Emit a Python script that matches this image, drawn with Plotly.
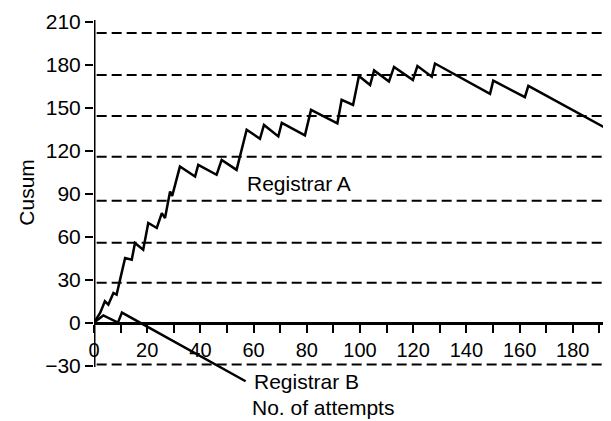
import plotly.graph_objects as go

# Registrar A cusum (attempt number, cusum value)
a_x = [0, 2.3, 4.1, 5.4, 7.3, 8.5, 9.8, 11.7, 14.2, 15.4, 18.5, 20.4, 23.6, 25.5, 26.7,
       28.6, 29.4, 32.3, 38, 39.2, 46.1, 48, 53.6, 57.4, 62.4, 63.9, 69.3, 70.6, 79.3,
       81.6, 91.5, 93.1, 97.4, 99.6, 103.8, 105.3, 110.9, 112.8, 119.9, 121.6, 127,
       128.2, 148.9, 150.1, 162, 163.3, 194]
a_y = [0, 6.8, 14.9, 12.6, 20.7, 19.5, 30, 45.1, 44, 55.6, 50.9, 69.6, 66.1, 76.5, 73,
       91.6, 88.5, 109, 102, 110.2, 103.3, 113.7, 106.7, 134.7, 128.4, 138.1, 130.1,
       139.5, 130.8, 148.6, 139.2, 155.6, 152.1, 172.3, 166, 176.2, 168.4, 178.6, 169.5,
       179.3, 171.8, 181, 159.8, 169, 157.5, 165.4, 134.2]

# Registrar B cusum
b_x = [0, 3.5, 9, 10.5, 57]
b_y = [0, 5, 0, 7, -41]

# decision limits (dashed horizontal lines)
limit_levels = [-29.3, 27.9, 55.8, 85.1, 115.8, 144.4, 173.0, 202.3]
limit_span = [1, 192]

y_ticks = [-30, 0, 30, 60, 90, 120, 150, 180, 210]

FONT = "Liberation Sans, Arial, sans-serif"
Y_RANGE = [-45, 211.4]
X_RANGE = [0, 194]

fig = go.Figure()

for lv in limit_levels:
    fig.add_trace(go.Scatter(x=limit_span, y=[lv, lv], mode="lines",
                             line=dict(color="black", width=2, dash="10px,5px"),
                             hoverinfo="skip", showlegend=False))

fig.add_trace(go.Scatter(x=a_x, y=a_y, mode="lines", name="Registrar A",
                         line=dict(color="black", width=2.5), showlegend=False))
fig.add_trace(go.Scatter(x=b_x, y=b_y, mode="lines", name="Registrar B",
                         line=dict(color="black", width=2.5), showlegend=False))

# y axis line drawn only over the labelled span
fig.add_shape(type="line", xref="x", yref="y", x0=0, x1=0, y0=-31, y1=Y_RANGE[1],
              line=dict(color="black", width=3))

fig.add_annotation(x=56.8, y=97, xref="x", yref="y", text="Registrar A",
                   showarrow=False, xanchor="left", yanchor="middle",
                   font=dict(family=FONT, size=21, color="black"))
fig.add_annotation(x=59.4, y=-41.5, xref="x", yref="y", text="Registrar B",
                   showarrow=False, xanchor="left", yanchor="middle",
                   font=dict(family=FONT, size=21, color="black"))
fig.add_annotation(x=58.6, y=-0.056, xref="x", yref="paper", text="No. of attempts",
                   showarrow=False, xanchor="left", yanchor="middle",
                   font=dict(family=FONT, size=21, color="black"))
fig.add_annotation(x=-0.13, y=0.532, xref="paper", yref="paper", text="Cusum",
                   showarrow=False, xanchor="center", yanchor="middle", textangle=-90,
                   font=dict(family=FONT, size=21, color="black"))

zero_pos = (0 - Y_RANGE[0]) / (Y_RANGE[1] - Y_RANGE[0])

# page body has an 8px margin, so the figure is 8px smaller and shifted
fig.update_layout(
    width=603, height=413,
    margin=dict(l=86, r=1, t=12, b=33.5),
    paper_bgcolor="white", plot_bgcolor="white",
    font=dict(family=FONT, size=20, color="black"),
    xaxis=dict(range=X_RANGE, anchor="free", position=zero_pos,
               showline=True, linecolor="black", linewidth=3,
               ticks="outside", ticklen=8, tickwidth=2, tickcolor="black",
               tick0=0, dtick=20, showgrid=False, zeroline=False,
               minor=dict(dtick=10, ticks="outside", ticklen=8, tickwidth=2,
                          tickcolor="black", showgrid=False),
               tickfont=dict(family=FONT, size=20, color="black")),
    yaxis=dict(range=Y_RANGE, showline=False, tickvals=y_ticks,
               ticks="outside", ticklen=8, tickwidth=2, tickcolor="black",
               showgrid=False, zeroline=False,
               tickfont=dict(family=FONT, size=21, color="black")),
)

fig.write_html("out.html")
